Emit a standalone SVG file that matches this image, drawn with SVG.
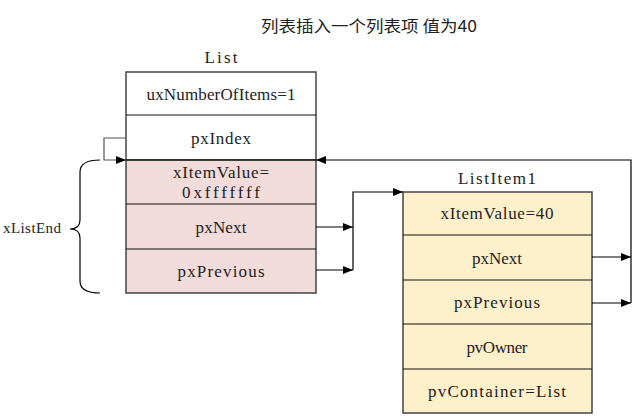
<svg xmlns="http://www.w3.org/2000/svg" width="641" height="418" viewBox="0 0 641 418">
<defs>
<marker id="ah" markerWidth="10" markerHeight="8" refX="10" refY="4" orient="auto" markerUnits="userSpaceOnUse">
<path d="M0,0 L10,4 L0,8 Z" fill="#000"/>
</marker>
<style>
.t{font-family:"Liberation Serif","DejaVu Serif",serif;font-size:17px;fill:#222;text-anchor:middle;dominant-baseline:central}
.box{stroke:#444;stroke-width:1.5}
.div{stroke:#111;stroke-width:1.2}
.c{fill:none;stroke:#000;stroke-width:1.2}
</style>
</defs>
<rect width="641" height="418" fill="#fff"/>
<text x="261" y="25" textLength="216" lengthAdjust="spacingAndGlyphs" style="font-family:'Noto Sans CJK SC',sans-serif;font-size:16px;fill:#222;dominant-baseline:central">列表插入一个列表项 值为40</text>

<g id="list">
<text class="t" x="221" y="57" textLength="33">List</text>
<rect x="126" y="72" width="190" height="88" fill="#fff" class="box"/>
<rect x="126" y="160" width="190" height="133" fill="#f2dcdb" class="box"/>
<line class="div" x1="126" y1="115" x2="316" y2="115"/>
<line class="div" x1="126" y1="160" x2="316" y2="160"/>
<line class="div" x1="126" y1="204" x2="316" y2="204"/>
<line class="div" x1="126" y1="249" x2="316" y2="249"/>
<text class="t" x="221" y="94" textLength="149">uxNumberOfItems=1</text>
<text class="t" x="221" y="138" textLength="60">pxIndex</text>
<text class="t" x="221" y="172" textLength="96">xItemValue=</text>
<text class="t" x="221" y="192" textLength="78">0xfffffff</text>
<text class="t" x="221" y="227" textLength="51">pxNext</text>
<text class="t" x="221" y="271" textLength="87">pxPrevious</text>
</g>

<g id="xListEnd">
<path class="c" d="M100,160 Q80,160 80,172 L80,220 Q80,229 70,229 Q80,229 80,238 L80,281 Q80,293 100,293"/>
<text x="3" y="228" textLength="58" style="font-family:'Liberation Serif','DejaVu Serif',serif;font-size:15px;fill:#222;dominant-baseline:central">xListEnd</text>
</g>

<g id="listitem1">
<text class="t" x="497" y="178" textLength="78">ListItem1</text>
<rect x="403" y="192" width="189" height="221" fill="#fef0cb" class="box"/>
<line class="div" x1="403" y1="235" x2="592" y2="235"/>
<line class="div" x1="403" y1="280" x2="592" y2="280"/>
<line class="div" x1="403" y1="324" x2="592" y2="324"/>
<line class="div" x1="403" y1="369" x2="592" y2="369"/>
<text class="t" x="497" y="213" textLength="113">xItemValue=40</text>
<text class="t" x="497" y="258" textLength="50">pxNext</text>
<text class="t" x="497" y="302" textLength="86">pxPrevious</text>
<text class="t" x="497" y="347" textLength="61">pvOwner</text>
<text class="t" x="497" y="391" textLength="138">pvContainer=List</text>
</g>

<g id="connectors">
<path class="c" d="M126,138 L104,138 L104,160 L126,160" marker-end="url(#ah)" style="stroke:#555"/>
<path class="c" d="M316,227 L353,227" marker-end="url(#ah)"/>
<path class="c" d="M316,270 L353,270" marker-end="url(#ah)"/>
<path class="c" d="M353,270 L353,192 L403,192" marker-end="url(#ah)"/>
<path class="c" d="M592,257 L631,257" marker-end="url(#ah)"/>
<path class="c" d="M592,303 L631,303" marker-end="url(#ah)"/>
<path class="c" d="M631,303 L631,160 L316,160" marker-end="url(#ah)"/>
</g>
</svg>
